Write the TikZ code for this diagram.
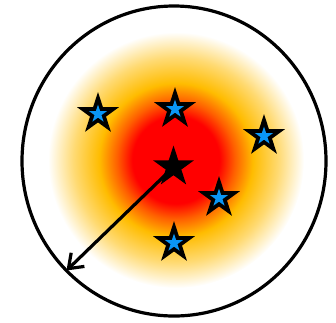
\documentclass[tikz,border=0pt]{standalone}
\usetikzlibrary{shapes.geometric,arrows.meta}
\definecolor{bleuetoile}{RGB}{10,150,245}
\definecolor{orangevif}{RGB}{255,95,0}
\definecolor{jaunedore}{RGB}{255,188,0}
\pgfdeclareradialshading{halo}{\pgfpoint{0bp}{0bp}}{%
  color(0bp)=(red); color(8.5bp)=(red); color(11.5bp)=(orangevif);
  color(15bp)=(jaunedore); color(20bp)=(jaunedore!55!white);
  color(25bp)=(white); color(50bp)=(white)}
\begin{document}
\begin{tikzpicture}[x=1pt,y=-1pt]
\tikzstyle{etoile} = [star, star points=5, star point ratio=2.618, inner sep=0pt, minimum size=44pt, fill=black] %contour noir
\tikzstyle{coeur} = [star, star points=5, star point ratio=2.618, inner sep=0pt, minimum size=19pt, fill=bleuetoile] %centre bleu
\tikzstyle{trait} = [line width=3.2pt]

\useasboundingbox (0,0) rectangle (336,322);

%halo colore
\shade[shading=halo] (176,160) circle[radius=128];

%bord de l'amas
\draw[trait] (174,161) ellipse[x radius=152, y radius=155];

%etoiles bleues
\foreach \nom/\x/\y in {e1/98/114, e2/175/109, e3/264/136, e4/219/198, e5/174/243}{
  \node[etoile] (\nom) at (\x,\y) {};
  \node[coeur] (\nom-c) at (\nom) {};
}

%etoile centrale et rayon
\node[etoile,minimum size=43pt] (centre) at (173.5,167) {};
\coordinate (bord) at (66.5,270.5);
\draw[trait,-{Straight Barb[length=13pt,width=19pt]}] (centre.center) -- (bord);
\end{tikzpicture}
\end{document}
